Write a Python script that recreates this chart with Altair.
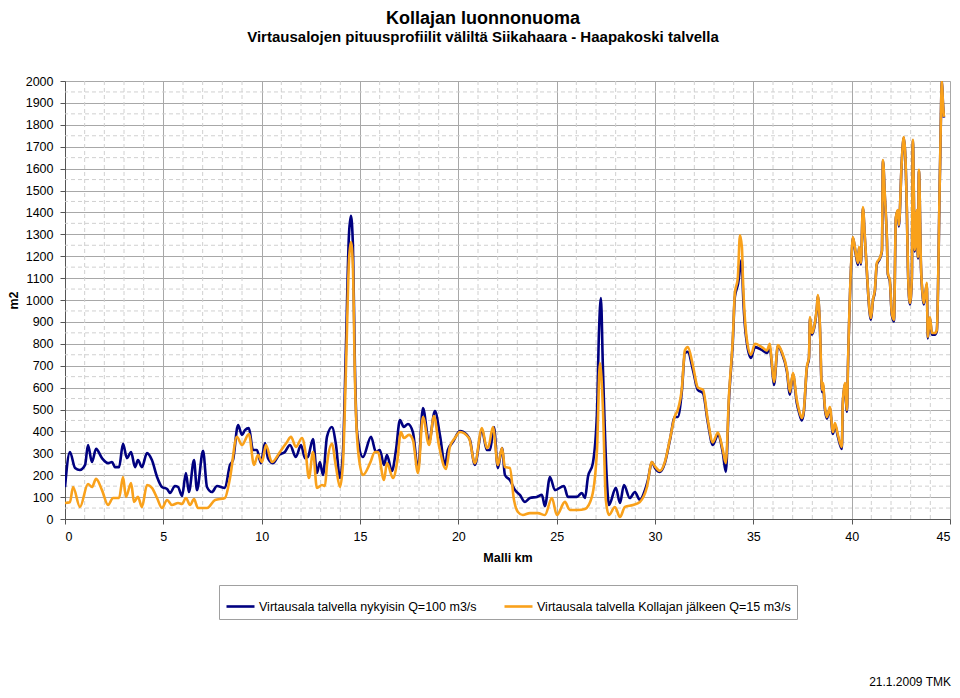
import altair as alt
import pandas as pd

TITLE = "Kollajan luonnonuoma"
SUBTITLE = "Virtausalojen pituusprofiilit väliltä Siikahaara - Haapakoski talvella"
FOOTER = "21.1.2009 TMK"
S1 = "Virtausala talvella nykyisin Q=100 m3/s"
S2 = "Virtausala talvella Kollajan jälkeen Q=15 m3/s"

# Series 1: nykyisin Q=100 m3/s
km_nyk = [0.00, 0.25, 0.51, 0.76, 1.02, 1.17, 1.37, 1.58, 1.88, 2.19, 2.39, 2.54, 2.75, 2.95, 3.15,
          3.36, 3.56, 3.71, 3.91, 4.17, 4.42, 4.68, 4.93, 5.19, 5.34, 5.59, 5.75, 5.95, 6.15, 6.30,
          6.56, 6.71, 7.02, 7.22, 7.47, 7.73, 8.13, 8.39, 8.54, 8.80, 9.00, 9.15, 9.35, 9.56, 9.76,
          9.96, 10.17, 10.32, 10.57, 10.88, 11.18, 11.44, 11.74, 12.00, 12.20, 12.35, 12.61, 12.81,
          12.96, 13.12, 13.32, 13.57, 13.78, 13.98, 14.13, 14.29, 14.44, 14.54, 14.64, 14.74, 14.85,
          15.15, 15.56, 15.81, 16.01, 16.22, 16.37, 16.62, 16.83, 17.03, 17.23, 17.44, 17.69, 17.95,
          18.20, 18.51, 18.81, 19.07, 19.32, 19.47, 19.73, 20.08, 20.44, 20.59, 20.84, 21.20, 21.45,
          21.61, 21.81, 22.01, 22.22, 22.37, 22.62, 22.88, 23.13, 23.39, 23.64, 24.00, 24.25, 24.40,
          24.66, 24.91, 25.37, 25.57, 26.03, 26.28, 26.44, 26.59, 26.84, 27.05, 27.15, 27.25, 27.35,
          27.56, 27.66, 28.01, 28.22, 28.42, 28.72, 28.98, 29.23, 29.49, 29.64, 29.84, 30.00, 30.25,
          30.50, 30.76, 31.01, 31.16, 31.37, 31.52, 31.67, 31.93, 32.18, 32.44, 32.69, 32.94, 33.20,
          33.45, 33.60, 33.76, 33.96, 34.06, 34.21, 34.42, 34.47, 34.67, 34.88, 35.08, 35.43, 35.69,
          35.84, 35.94, 36.05, 36.25, 36.45, 36.71, 36.86, 37.01, 37.21, 37.32, 37.47, 37.57, 37.72,
          37.83, 37.88, 37.98, 38.13, 38.23, 38.28, 38.38, 38.49, 38.54, 38.64, 38.74, 38.89, 39.05,
          39.15, 39.30, 39.50, 39.55, 39.66, 39.76, 39.81, 40.01, 40.06, 40.21, 40.32, 40.37, 40.47,
          40.57, 40.67, 40.78, 40.83, 40.98, 41.08, 41.18, 41.28, 41.43, 41.54, 41.59, 41.69, 41.79,
          41.84, 41.94, 42.04, 42.15, 42.25, 42.35, 42.40, 42.55, 42.65, 42.81, 42.86, 42.96, 43.06,
          43.11, 43.21, 43.31, 43.37, 43.42, 43.52, 43.62, 43.67, 43.82, 43.87, 43.98, 44.08, 44.23,
          44.33, 44.49, 44.59, 44.64, 44.69]
ala_nyk = [146, 306, 233, 224, 247, 338, 260, 320, 278, 255, 260, 237, 237, 343, 278,
           306, 237, 269, 237, 301, 269, 192, 146, 137, 119, 151, 146, 105, 210, 123,
           269, 132, 311, 146, 123, 151, 142, 247, 269, 429, 384, 406, 415, 315, 315,
           255, 347, 278, 255, 292, 306, 338, 283, 338, 278, 283, 365, 210,
           260, 201, 375, 420, 338, 187, 300, 800, 1300, 1384, 1250, 700, 397,
           283, 375, 306, 315, 247, 292, 219, 315, 452, 420, 434, 397, 228,
           507, 352, 493, 380, 247, 315, 352, 402, 384, 361, 247, 406, 315,
           315, 420, 233, 324, 201, 178, 132, 110, 78, 96, 101, 110, 59,
           192, 132, 151, 101, 101, 119, 96, 192, 255, 484, 849, 1009, 694,
           164, 64, 142, 73, 155, 96, 123, 87, 132, 178, 260, 233, 215,
           255, 361, 466, 466, 589, 758, 763, 680, 589, 575, 438, 338, 384,
           301, 215, 543, 817, 1014, 1068, 1183, 1046, 804, 735, 785, 772, 758,
           785, 705, 612, 790, 758, 672, 568, 662, 530, 488, 450, 490, 688,
           735, 918, 842, 890, 962, 1018, 888, 580, 612, 502, 458, 505, 388,
           430, 376, 320, 528, 615, 490, 688, 1222, 1285, 1208, 1160, 1238, 1162,
           1420, 1283, 1117, 1040, 910, 996, 1040, 1163, 1188, 1224, 1636, 1466, 1282,
           1118, 1086, 934, 902, 1375, 1407, 1336, 1636, 1741, 1392, 1145, 980, 1100,
           1728, 1222, 1407, 1190, 1590, 1163, 1008, 980, 1072, 824, 918, 842, 842,
           858, 1590, 2000, 1900, 1833]

# Series 2: Kollajan jälkeen Q=15 m3/s
km_kol = [0.00, 0.25, 0.41, 0.76, 1.17, 1.37, 1.58, 1.88, 2.19, 2.44, 2.75, 2.95, 3.10, 3.36, 3.51,
          3.71, 3.91, 4.17, 4.42, 4.68, 4.93, 5.19, 5.44, 5.75, 5.95, 6.15, 6.36, 6.56, 6.76, 7.22,
          7.63, 8.13, 8.39, 8.74, 9.00, 9.35, 9.61, 9.81, 10.02, 10.22, 10.52, 10.93, 11.29, 11.49,
          11.74, 12.05, 12.25, 12.40, 12.61, 12.81, 13.07, 13.22, 13.32, 13.57, 13.78, 13.98, 14.13,
          14.29, 14.44, 14.54, 14.64, 14.74, 14.90, 15.15, 15.51, 15.76, 15.91, 16.22, 16.37, 16.68,
          16.88, 17.08, 17.23, 17.49, 17.69, 17.95, 18.20, 18.51, 18.76, 19.01, 19.37, 19.57, 19.83,
          20.08, 20.54, 20.84, 21.20, 21.45, 21.56, 21.76, 22.01, 22.22, 22.37, 22.62, 22.83, 23.03,
          23.28, 23.64, 24.05, 24.40, 24.76, 25.01, 25.42, 25.67, 26.08, 26.44, 26.79, 27.05, 27.20,
          27.35, 27.50, 27.66, 27.96, 28.22, 28.47, 28.88, 29.23, 29.59, 29.84, 30.00, 30.25, 30.50,
          30.76, 31.01, 31.16, 31.37, 31.52, 31.67, 31.93, 32.18, 32.44, 32.69, 32.94, 33.20, 33.45,
          33.60, 33.76, 33.96, 34.06, 34.21, 34.32, 34.42, 34.47, 34.67, 34.88, 35.08, 35.43, 35.69,
          35.84, 35.94, 36.05, 36.25, 36.45, 36.71, 36.86, 37.01, 37.21, 37.32, 37.47, 37.57, 37.72,
          37.83, 37.88, 37.98, 38.13, 38.23, 38.28, 38.38, 38.49, 38.54, 38.64, 38.74, 38.89, 39.05,
          39.15, 39.30, 39.50, 39.55, 39.66, 39.76, 39.81, 40.01, 40.06, 40.21, 40.32, 40.37, 40.47,
          40.57, 40.67, 40.78, 40.83, 40.98, 41.08, 41.18, 41.28, 41.43, 41.54, 41.59, 41.69, 41.79,
          41.84, 41.94, 42.04, 42.15, 42.25, 42.35, 42.40, 42.55, 42.65, 42.81, 42.86, 42.96, 43.06,
          43.11, 43.21, 43.31, 43.37, 43.42, 43.52, 43.62, 43.67, 43.82, 43.87, 43.98, 44.08, 44.23,
          44.33, 44.49, 44.59, 44.64, 44.69]
ala_kol = [73, 76, 146, 55, 160, 146, 183, 132, 64, 96, 96, 192, 101, 164, 78,
           101, 55, 155, 142, 96, 50, 87, 64, 73, 69, 96, 64, 91, 50, 50,
           87, 96, 187, 375, 338, 388, 247, 292, 260, 338, 260, 306, 352, 375,
           329, 370, 292, 187, 306, 142, 155, 151, 247, 343, 237, 146, 247,
           700, 1180, 1265, 1150, 650, 315, 201, 255, 306, 306, 178, 255, 187,
           255, 397, 370, 384, 361, 210, 466, 338, 470, 338, 228, 329, 370,
           397, 370, 255, 415, 324, 338, 420, 247, 324, 237, 233, 87, 32,
           18, 27, 27, 18, 96, 18, 78, 41, 41, 46, 101, 315, 712,
           511, 87, 18, 55, 9, 55, 64, 78, 146, 260, 240, 220, 260,
           365, 470, 498, 600, 770, 785, 700, 600, 590, 450, 350, 395, 315,
           255, 560, 830, 1030, 1100, 1295, 1240, 1100, 820, 750, 800, 785, 770,
           800, 712, 626, 794, 763, 680, 580, 667, 543, 498, 461, 498, 694,
           740, 922, 849, 895, 968, 1023, 895, 589, 621, 511, 466, 511, 397,
           438, 384, 329, 534, 621, 498, 694, 1228, 1288, 1215, 1169, 1242, 1169,
           1425, 1288, 1123, 1046, 918, 1000, 1046, 1169, 1192, 1228, 1639, 1470, 1288,
           1123, 1091, 941, 909, 1379, 1411, 1342, 1639, 1744, 1397, 1151, 986, 1104,
           1731, 1228, 1411, 1196, 1594, 1169, 1014, 986, 1078, 831, 922, 849, 849,
           863, 1594, 2000, 1900, 1836]

NAVY = "#000080"
ORANGE = "#F9A11B"
FONT = "Liberation Sans"

df1 = pd.DataFrame({"km": km_nyk, "ala": ala_nyk, "sarja": S1})
df2 = pd.DataFrame({"km": km_kol, "ala": ala_kol, "sarja": S2})

W, H = 885, 438
xscale = alt.Scale(domain=[0, 45], nice=False, zero=False)
yscale = alt.Scale(domain=[0, 2000], nice=False)
cscale = alt.Scale(domain=[S1, S2], range=[NAVY, ORANGE])

x_minor = pd.DataFrame({"km": [k for k in range(1, 45) if k % 5 != 0]})
y_minor = pd.DataFrame({"ala": list(range(50, 2000, 100))})

xaxis = alt.Axis(
    values=list(range(0, 46, 5)), format="d", title="Malli km",
    grid=True, gridColor="#a8a8a8", gridWidth=1,
    domainColor="#555555", tickColor="#555555", tickSize=5,
    labelFont=FONT, labelFontSize=12.5, labelColor="black", labelPadding=6,
    titleFont=FONT, titleFontSize=12.5, titleFontWeight="bold", titleColor="black", titlePadding=9,
)
yaxis = alt.Axis(
    values=list(range(0, 2001, 100)), format="d", title="m2",
    grid=True, gridColor="#a8a8a8", gridWidth=1,
    domainColor="#555555", tickColor="#555555", tickSize=5,
    labelFont=FONT, labelFontSize=12.5, labelColor="black", labelPadding=7,
    titleFont=FONT, titleFontSize=12.5, titleFontWeight="bold", titleColor="black",
    titleAngle=270, titleX=-45, titleY=H / 2, titleBaseline="bottom", titleAlign="center",
)
legend = alt.Legend(
    orient="none", legendX=154, legendY=504, direction="horizontal", title=None,
    symbolType="stroke", symbolSize=784, symbolStrokeWidth=2.6,
    labelFont=FONT, labelFontSize=12.5, labelColor="black", labelLimit=500, labelOffset=3,
    columnPadding=22, padding=6, strokeColor="#a0a0a0", fillColor="white",
)

X = alt.X("km:Q", scale=xscale, axis=xaxis)
Y = alt.Y("ala:Q", scale=yscale, axis=yaxis)

vgrid = alt.Chart(x_minor).mark_rule(color="#d0d0d0", strokeDash=[4, 3], strokeWidth=1).encode(x=X)
hgrid = alt.Chart(y_minor).mark_rule(color="#d0d0d0", strokeDash=[4, 3], strokeWidth=1).encode(y=Y)

line1 = alt.Chart(df1).mark_line(strokeWidth=2.6, interpolate="monotone", clip=True).encode(
    x=X, y=Y, color=alt.Color("sarja:N", scale=cscale, legend=legend),
)
line2 = alt.Chart(df2).mark_line(strokeWidth=2.6, interpolate="monotone", clip=True).encode(
    x=X, y=Y, color=alt.Color("sarja:N", scale=cscale, legend=legend),
)

title_t = alt.Chart(pd.DataFrame({"t": [TITLE]})).mark_text(
    font=FONT, fontSize=18, fontWeight="bold", color="black", baseline="middle", align="center"
).encode(text="t:N", x=alt.value(418), y=alt.value(-62))
sub_t = alt.Chart(pd.DataFrame({"t": [SUBTITLE]})).mark_text(
    font=FONT, fontSize=15, fontWeight="bold", color="black", baseline="middle", align="center"
).encode(text="t:N", x=alt.value(418), y=alt.value(-44))
foot_t = alt.Chart(pd.DataFrame({"t": [FOOTER]})).mark_text(
    font=FONT, fontSize=12, color="black", baseline="bottom", align="right"
).encode(text="t:N", x=alt.value(W + 1), y=alt.value(H + 170))

chart = alt.layer(vgrid, hgrid, line1, line2, title_t, sub_t, foot_t).properties(
    width=W, height=H,
    autosize=alt.AutoSizeParams(type="none"),
    padding={"left": 57, "top": 73, "right": 2, "bottom": 171},
).configure_view(stroke="#8c8c8c", strokeWidth=1).configure(background="white")

chart.save("out.html", embed_options={"renderer": "svg", "actions": False})
